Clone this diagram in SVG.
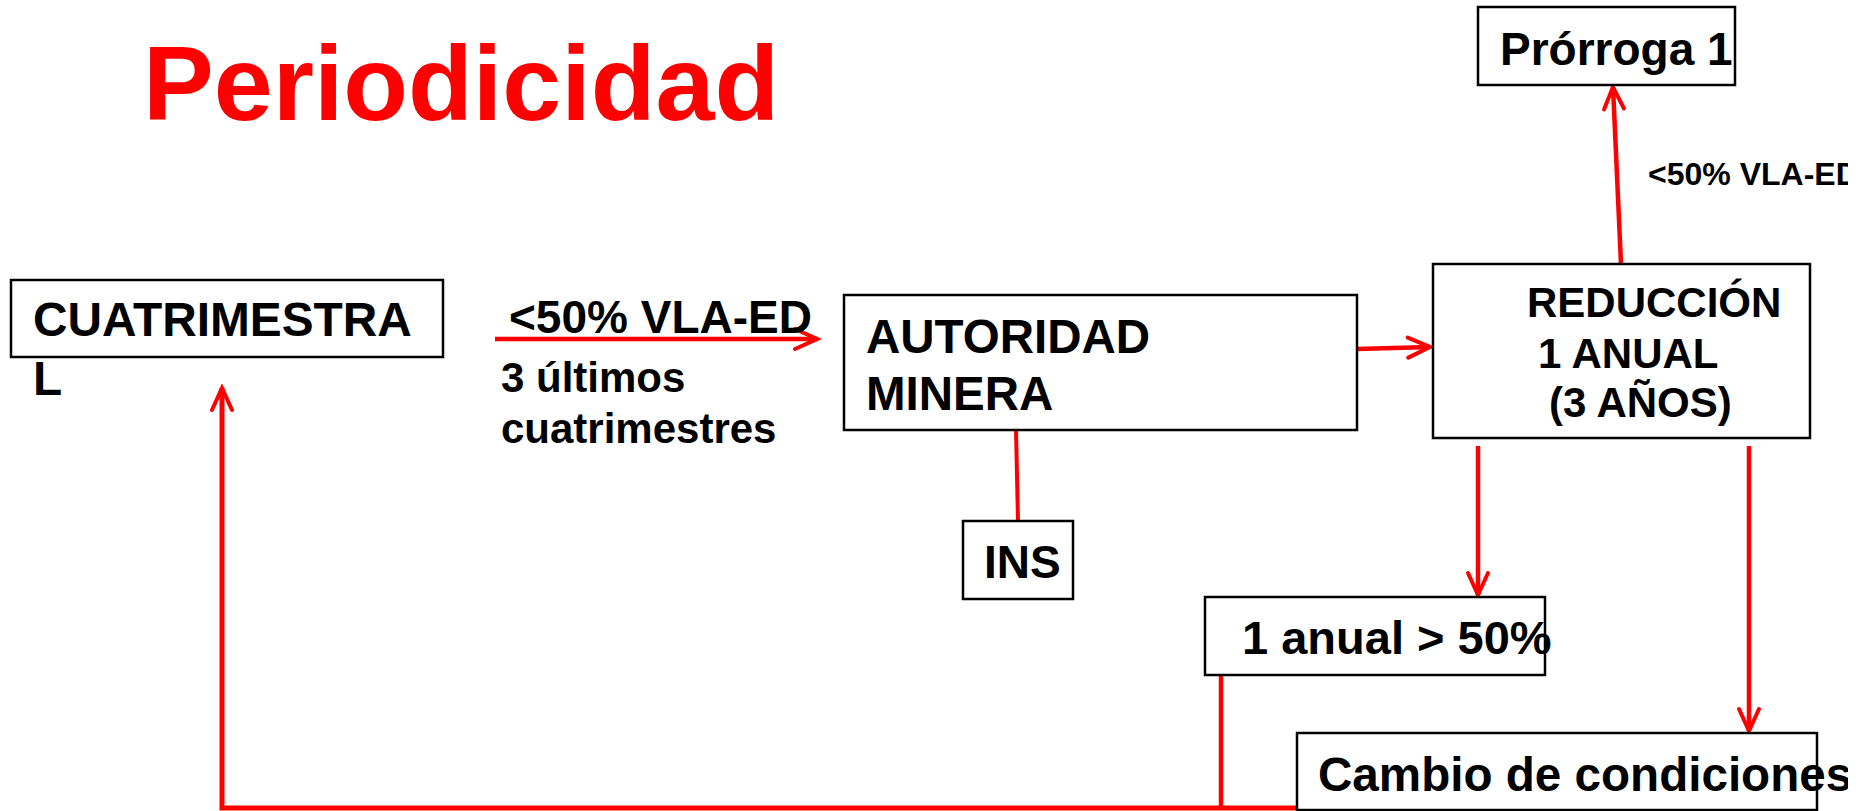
<svg xmlns="http://www.w3.org/2000/svg" width="1874" height="811" viewBox="0 0 1874 811">
<style>
text{font-family:"Liberation Sans",Arial,Helvetica,sans-serif;font-weight:bold;fill:#000}
.box{fill:#fff;stroke:#000;stroke-width:2.5}
.con{fill:none;stroke:#ff0000;stroke-width:4.5}
</style>
<defs>
<clipPath id="slide"><rect x="0" y="0" width="1848" height="811"/></clipPath>
<marker id="ah" viewBox="-26 -13 30 26" refX="0" refY="0" markerWidth="30" markerHeight="26" markerUnits="userSpaceOnUse" orient="auto">
<path d="M-22,-10 L0,0 L-22,10" fill="none" stroke="#ff0000" stroke-width="4" stroke-linecap="round" stroke-linejoin="miter"/>
</marker>
</defs>
<rect width="1874" height="811" fill="#fff"/>
<g clip-path="url(#slide)">
<text id="title" x="143" y="120" style="font-size:106px;fill:#ff0000">Periodicidad</text>

<g id="connectors">
<line class="con" x1="495" y1="339" x2="817" y2="339" marker-end="url(#ah)"/>
<line class="con" x1="1357" y1="349" x2="1430" y2="347" marker-end="url(#ah)"/>
<line class="con" style="stroke-width:4" x1="1016" y1="430" x2="1018" y2="521"/>
<line class="con" x1="1621" y1="264" x2="1613" y2="87" marker-end="url(#ah)"/>
<line class="con" x1="1478" y1="446" x2="1478" y2="595" marker-end="url(#ah)"/>
<line class="con" x1="1749" y1="446" x2="1749" y2="731" marker-end="url(#ah)"/>
<line class="con" x1="1221" y1="675" x2="1221" y2="808"/>
<polyline class="con" style="stroke-width:5" points="1297,808 222,808 222,388" marker-end="url(#ah)"/>
</g>

<g id="label-mid">
<text x="509" y="333" style="font-size:46px">&lt;50% VLA-ED</text>
<text x="501" y="392" style="font-size:42px">3 últimos</text>
<text x="501" y="443" style="font-size:42px">cuatrimestres</text>
</g>
<text id="label-top" x="1648" y="185" style="font-size:32px">&lt;50% VLA-ED</text>

<g id="cuatrimestral">
<rect class="box" x="11" y="280" width="432" height="77"/>
<text x="33" y="336" style="font-size:47.8px">CUATRIMESTRA</text>
<text x="33" y="395" style="font-size:47.8px">L</text>
</g>

<g id="autoridad">
<rect class="box" x="844" y="295" width="513" height="135"/>
<text x="866" y="353" style="font-size:47.5px">AUTORIDAD</text>
<text x="866" y="410" style="font-size:47.5px">MINERA</text>
</g>

<g id="reduccion">
<rect class="box" x="1433" y="264" width="377" height="174"/>
<text x="1527" y="317" style="font-size:42px">REDUCCIÓN</text>
<text x="1538" y="368" style="font-size:42px">1 ANUAL</text>
<text x="1549" y="417" style="font-size:42px">(3 AÑOS)</text>
</g>

<g id="prorroga">
<rect class="box" x="1478" y="7" width="257" height="78"/>
<text x="1500" y="65" style="font-size:46px">Prórroga 1</text>
</g>

<g id="ins">
<rect class="box" x="963" y="521" width="110" height="78"/>
<text x="984" y="578" style="font-size:46px">INS</text>
</g>

<g id="anual">
<rect class="box" x="1205" y="597" width="340" height="78"/>
<text x="1242" y="654" style="font-size:47px">1 anual &gt; 50%</text>
</g>

<g id="cambio">
<rect class="box" x="1297" y="733" width="520" height="77"/>
<text x="1318" y="791" style="font-size:47.6px">Cambio de condiciones</text>
</g>
</g>
</svg>
